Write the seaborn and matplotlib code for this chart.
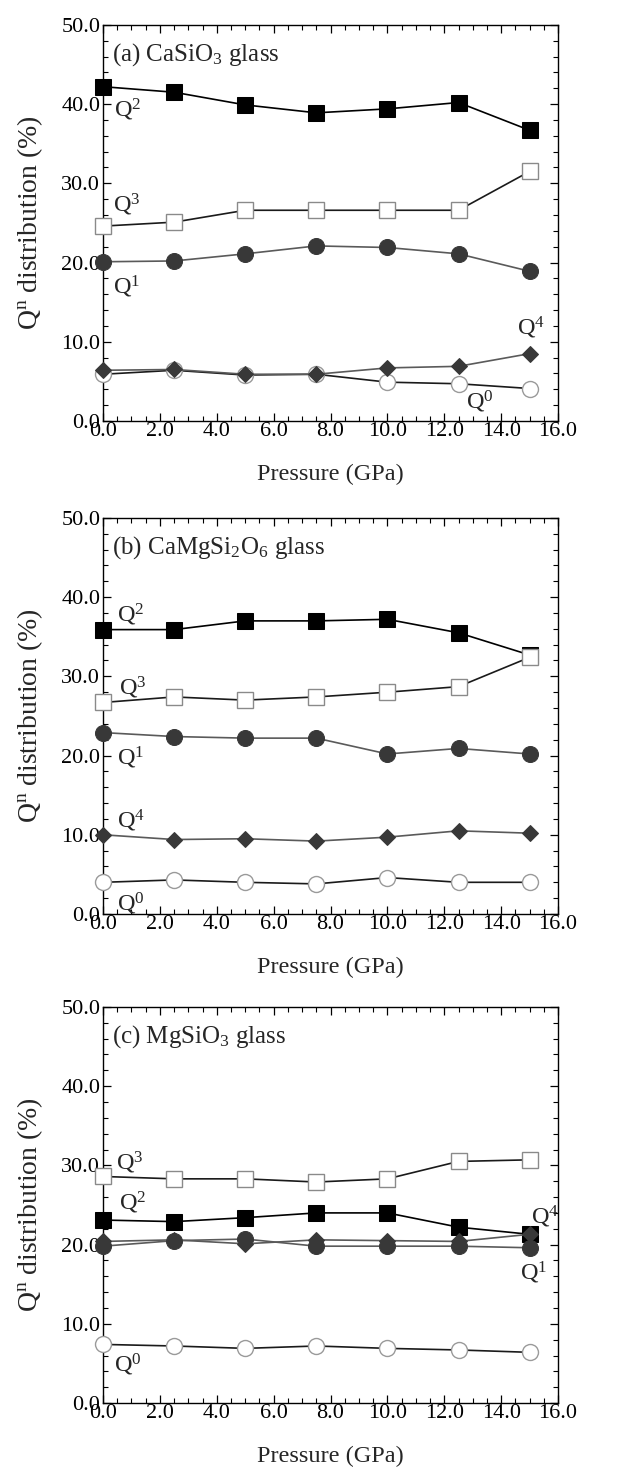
import matplotlib
matplotlib.use("Agg")
import matplotlib.pyplot as plt
import seaborn as sns
import numpy as np
import pandas as pd

# ---------------- data ----------------
pressure = [0.0, 2.5, 5.0, 7.5, 10.0, 12.5, 15.0]

# (a) CaSiO3 glass
a_q0 = [5.9, 6.4, 5.8, 5.9, 4.9, 4.7, 4.1]
a_q1 = [20.1, 20.2, 21.1, 22.1, 21.9, 21.1, 18.9]
a_q2 = [42.2, 41.5, 39.9, 38.9, 39.4, 40.2, 36.7]
a_q3 = [24.6, 25.1, 26.6, 26.6, 26.6, 26.6, 31.5]
a_q4 = [6.4, 6.5, 5.9, 5.9, 6.7, 6.9, 8.5]

# (b) CaMgSi2O6 glass
b_q0 = [4.0, 4.3, 4.0, 3.8, 4.6, 4.0, 4.0]
b_q1 = [22.9, 22.4, 22.2, 22.2, 20.2, 20.9, 20.2]
b_q2 = [35.9, 35.9, 37.0, 37.0, 37.2, 35.5, 32.7]
b_q3 = [26.7, 27.4, 27.0, 27.4, 28.0, 28.7, 32.4]
b_q4 = [10.0, 9.4, 9.5, 9.2, 9.7, 10.5, 10.2]

# (c) MgSiO3 glass
c_q0 = [7.4, 7.2, 6.9, 7.2, 6.9, 6.7, 6.4]
c_q1 = [19.8, 20.5, 20.7, 19.8, 19.8, 19.8, 19.6]
c_q2 = [23.1, 22.9, 23.4, 24.0, 24.0, 22.2, 21.3]
c_q3 = [28.6, 28.3, 28.3, 27.9, 28.3, 30.5, 30.7]
c_q4 = [20.4, 20.6, 20.1, 20.6, 20.5, 20.4, 21.3]

titles = ["(a) CaSiO$_3$ glass", "(b) CaMgSi$_2$O$_6$ glass", "(c) MgSiO$_3$ glass"]
xticks = [0.0, 2.0, 4.0, 6.0, 8.0, 10.0, 12.0, 14.0, 16.0]
yticks = [0.0, 10.0, 20.0, 30.0, 40.0, 50.0]

# label positions (x, y) per panel for Q0..Q4
label_pos = [
    {0: (12.75, 2.4), 1: (0.35, 16.9), 2: (0.4, 39.3), 3: (0.35, 27.3), 4: (14.55, 11.7)},
    {0: (0.5, 1.3), 1: (0.5, 19.7), 2: (0.5, 37.8), 3: (0.55, 28.5), 4: (0.5, 11.8)},
    {0: (0.4, 4.8), 1: (14.65, 16.4), 2: (0.55, 25.3), 3: (0.45, 30.3), 4: (15.05, 23.5)},
]

# ---------------- style ----------------
sns.set_style("ticks")
plt.rcParams["font.family"] = ["Liberation Serif", "DejaVu Serif"]
plt.rcParams["mathtext.fontset"] = "custom"
plt.rcParams["mathtext.rm"] = "Liberation Serif"
plt.rcParams["mathtext.it"] = "Liberation Serif"
plt.rcParams["mathtext.default"] = "rm"

fig = plt.figure(figsize=(6.29, 14.73), dpi=100)
left, width, height = 0.1638, 0.7234, 0.2689
bottoms = [0.7142, 0.3795, 0.0475]

panels = [
    (a_q0, a_q1, a_q2, a_q3, a_q4),
    (b_q0, b_q1, b_q2, b_q3, b_q4),
    (c_q0, c_q1, c_q2, c_q3, c_q4),
]

dark = "#383838"
gline = "#5a5a5a"

for i, (q0, q1, q2, q3, q4) in enumerate(panels):
    ax = fig.add_axes([left, bottoms[i], width, height])
    common = dict(ax=ax, legend=False, clip_on=False, linewidth=1.2)
    # Q2 filled squares
    sns.lineplot(x=pressure, y=q2, color="black", marker="s", markersize=11,
                 markerfacecolor="black", markeredgecolor="black", zorder=3, **common)
    # Q3 open squares
    sns.lineplot(x=pressure, y=q3, color="#1a1a1a", marker="s", markersize=11,
                 markerfacecolor="white", markeredgecolor="#8a8a8a", markeredgewidth=1.0,
                 zorder=4, **common)
    # Q1 filled circles
    sns.lineplot(x=pressure, y=q1, color=gline, marker="o", markersize=11.5,
                 markerfacecolor=dark, markeredgecolor=dark, zorder=3, **common)
    # Q0 open circles
    sns.lineplot(x=pressure, y=q0, color="#1a1a1a", marker="o", markersize=11.5,
                 markerfacecolor="white", markeredgecolor="#9a9a9a", markeredgewidth=1.0,
                 zorder=3, **common)
    # Q4 filled diamonds
    sns.lineplot(x=pressure, y=q4, color=gline, marker="D", markersize=8.5,
                 markerfacecolor=dark, markeredgecolor=dark, zorder=5, **common)

    ax.set_xlim(0, 16)
    ax.set_ylim(0, 50)
    ax.set_xticks(xticks)
    ax.set_yticks(yticks)
    ax.set_xticklabels([f"{v:.1f}" for v in xticks])
    ax.set_yticklabels([f"{v:.1f}" for v in yticks])
    ax.xaxis.set_minor_locator(matplotlib.ticker.MultipleLocator(0.5))
    ax.yaxis.set_minor_locator(matplotlib.ticker.MultipleLocator(2))
    ax.tick_params(which="both", direction="in", top=True, right=True,
                   colors="black", labelsize=16)
    ax.tick_params(which="major", length=6, width=0.9, pad=2)
    ax.tick_params(which="minor", length=3.5, width=0.8)
    ax.tick_params(axis="x", which="major", pad=1)
    for s in ax.spines.values():
        s.set_linewidth(1.0)
        s.set_color("black")
        s.set_visible(True)

    ax.set_xlabel("Pressure (GPa)", fontsize=17.5, labelpad=16)
    ax.set_ylabel("Q$^{\\rm n}$ distribution (%)", fontsize=20, labelpad=12)

    ax.text(0.3, 48.0, titles[i], fontsize=18, ha="left", va="top")
    for n in range(5):
        x, y = label_pos[i][n]
        ax.text(x, y, f"Q$^{n}$", fontsize=17.5, ha="left", va="center", zorder=6)

fig.savefig("out.png", dpi=100)
